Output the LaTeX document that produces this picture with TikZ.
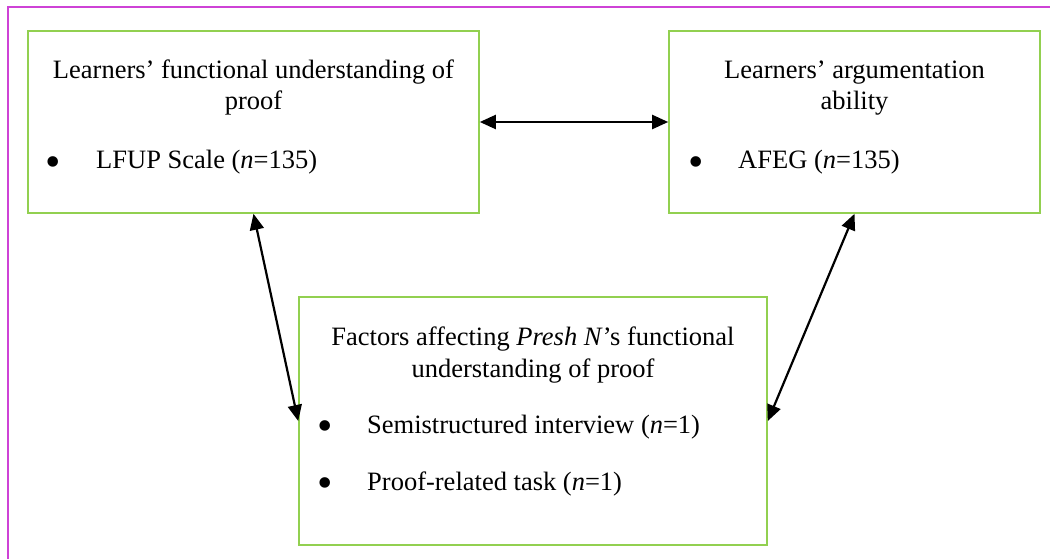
\documentclass[tikz,border=0pt]{standalone}
\usepackage{fontspec}
\setmainfont{Liberation Serif}
\usetikzlibrary{arrows.meta}
\definecolor{framepink}{RGB}{206,66,214}
\definecolor{boxgreen}{RGB}{146,208,80}
\begin{document}
\begin{tikzpicture}[x=1pt,y=-1pt,
  frame/.style={draw=framepink, line width=2.5pt},
  box/.style={draw=boxgreen, line width=1.6pt, inner sep=0pt},
  txt/.style={font=\fontsize{26.5pt}{31pt}\selectfont, inner sep=0pt, anchor=base},
  itemtxt/.style={txt, anchor=base west},
  bul/.style={font=\fontsize{44pt}{44pt}\selectfont, inner sep=0pt, anchor=center},
  link/.style={{Triangle[length=16pt,width=14pt]}-{Triangle[length=16pt,width=14pt]}, line width=2.2pt, black}]
\useasboundingbox (0,0) rectangle (1050,559);

% page frame (top and left edges)
\draw[frame] (8,559) -- (8,7) -- (1050,7);

% the three boxes
\node[box, minimum width=451pt, minimum height=182pt] (lfu) at (253.5,122) {};
\node[box, minimum width=371pt, minimum height=182pt] (arg) at (854.5,122) {};
\node[box, minimum width=468pt, minimum height=248pt] (fac) at (533,421) {};

% functional understanding box text
\node[txt] (lfuA) at (253.5,79) {Learners’ functional understanding of};
\node[txt] (lfuB) at (253.5,110) {proof};
\node[bul] (lfuD) at (53,167) {•};
\node[itemtxt] (lfuI) at (96,168) {LFUP Scale (\textit{n}=135)};

% argumentation box text
\node[txt] (argA) at (854.5,79) {Learners’ argumentation};
\node[txt] (argB) at (854.5,110) {ability};
\node[bul] (argD) at (696,167) {•};
\node[itemtxt] (argI) at (738,168) {AFEG (\textit{n}=135)};

% factors box text
\node[txt] (facA) at (533,345) {Factors affecting \textit{Presh N}’s functional};
\node[txt] (facB) at (533,377) {understanding of proof};
\node[bul] (facD1) at (325,431) {•};
\node[itemtxt] (facI1) at (367,433) {Semistructured interview (\textit{n}=1)};
\node[bul] (facD2) at (325,488) {•};
\node[itemtxt] (facI2) at (367,490) {Proof-related task (\textit{n}=1)};

% relations
\draw[link] (lfu.east) -- (arg.west);
\draw[link] (lfu.south) -- (fac.west);
\draw[link] (arg.south) -- (fac.east);
\end{tikzpicture}
\end{document}
